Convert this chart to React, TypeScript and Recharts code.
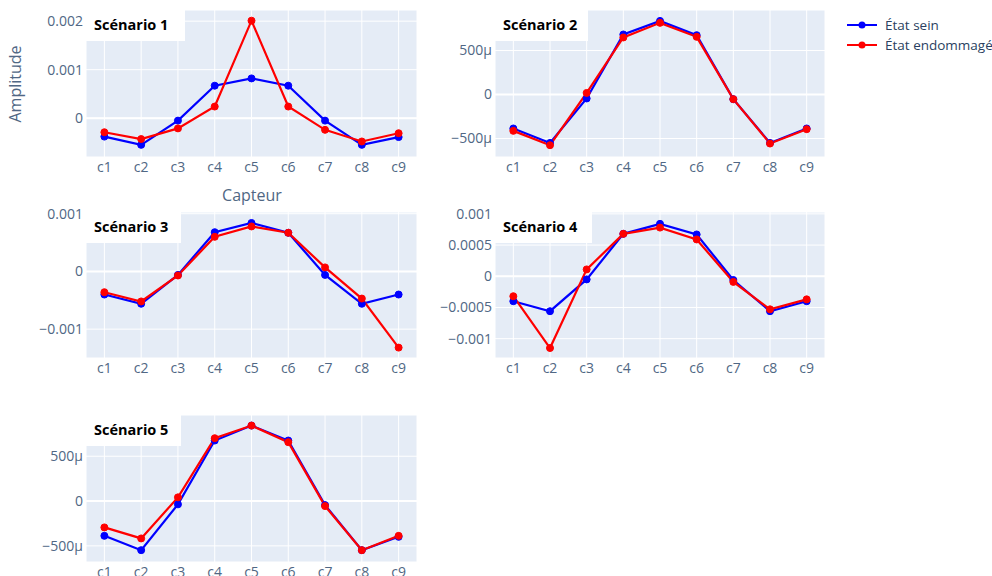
import React from "react";
import {
  LineChart,
  Line,
  XAxis,
  YAxis,
  CartesianGrid,
  ReferenceLine,
} from "recharts";

const categories = ["c1", "c2", "c3", "c4", "c5", "c6", "c7", "c8", "c9"];

// Scénario 1
const s1Sain = [-0.00038, -0.00055, -0.00005, 0.00067, 0.00082, 0.00067, -0.00005, -0.00055, -0.00039];
const s1Endo = [-0.00029, -0.00043, -0.00021, 0.00024, 0.00201, 0.00024, -0.00024, -0.00048, -0.00031];
// Scénario 2
const s2Sain = [-0.000386, -0.00055, -0.000045, 0.000682, 0.000836, 0.000674, -0.000053, -0.00055, -0.000386];
const s2Endo = [-0.000413, -0.000576, 0.000018, 0.000648, 0.000814, 0.000655, -0.000053, -0.000557, -0.000394];
// Scénario 3
const s3Sain = [-0.0004, -0.00056, -0.00006, 0.00068, 0.00084, 0.00067, -0.00006, -0.00056, -0.0004];
const s3Endo = [-0.00036, -0.00052, -0.00007, 0.0006, 0.00078, 0.00067, 0.00007, -0.00047, -0.00132];
// Scénario 4
const s4Sain = [-0.0004, -0.00056, -0.00005, 0.00068, 0.00084, 0.00067, -0.00006, -0.00056, -0.0004];
const s4Endo = [-0.00032, -0.00115, 0.00011, 0.00068, 0.00078, 0.00059, -0.00009, -0.00053, -0.00037];
// Scénario 5
const s5Sain = [-0.000388, -0.000548, -0.000037, 0.000675, 0.000842, 0.000675, -0.000045, -0.000548, -0.000399];
const s5Endo = [-0.000294, -0.000417, 0.000041, 0.000701, 0.000842, 0.000657, -0.000056, -0.000548, -0.000388];

const seriesNames = ["État sein", "État endommagé"];
const seriesColors = ["#0000ff", "#ff0000"];

const TICK_COLOR = "#506784";
const FONT = "'Open Sans', sans-serif";

const fmtDec = (v: number) => {
  if (v === 0) return "0";
  const s = String(Math.abs(v));
  return (v < 0 ? "\u2212" : "") + s;
};
const fmtMicro = (v: number) => {
  if (v === 0) return "0";
  const s = Math.round(Math.abs(v) * 1e6) + "\u00b5";
  return (v < 0 ? "\u2212" : "") + s;
};

type PanelProps = {
  title: string;
  sain: number[];
  endo: number[];
  domain: [number, number];
  ticks: number[];
  fmt: (v: number) => string;
  left: number;
  top: number;
  w: number;
  h: number;
  labelW: number;
};

const YW = 70;
const MT = 10;
const MR = 10;
const XH = 30;

const Panel = ({ title, sain, endo, domain, ticks, fmt, left, top, w, h, labelW }: PanelProps) => {
  const rows = categories.map((c, i) => ({ capteur: c, sain: sain[i], endo: endo[i] }));
  const half = w / 18;
  return (
    <>
      <div style={{ position: "absolute", left: left - YW, top: top - MT }}>
        <LineChart
          width={YW + w + MR}
          height={MT + h + XH}
          data={rows}
          margin={{ top: MT, right: MR, left: 0, bottom: 0 }}
        >
          <CartesianGrid fill="#E5ECF6" stroke="#ffffff" strokeWidth={1} />
          <XAxis
            dataKey="capteur"
            height={XH}
            padding={{ left: half, right: half }}
            axisLine={false}
            tickLine={false}
            tickSize={0}
            tickMargin={5}
            interval={0}
            tick={{ fill: TICK_COLOR, fontSize: 14, fontFamily: FONT }}
          />
          <YAxis
            type="number"
            width={YW}
            domain={domain}
            ticks={ticks}
            allowDataOverflow
            tickFormatter={fmt}
            axisLine={false}
            tickLine={false}
            tickSize={0}
            tickMargin={3}
            tick={{ fill: TICK_COLOR, fontSize: 14, fontFamily: FONT }}
          />
          <ReferenceLine y={0} stroke="#ffffff" strokeWidth={2} />
          <Line
            type="linear"
            dataKey="sain"
            name={seriesNames[0]}
            stroke={seriesColors[0]}
            strokeWidth={2.2}
            dot={{ r: 3.5, fill: seriesColors[0], stroke: seriesColors[0], strokeWidth: 1 }}
            isAnimationActive={false}
          />
          <Line
            type="linear"
            dataKey="endo"
            name={seriesNames[1]}
            stroke={seriesColors[1]}
            strokeWidth={2.2}
            dot={{ r: 3.5, fill: seriesColors[1], stroke: seriesColors[1], strokeWidth: 1 }}
            isAnimationActive={false}
          />
        </LineChart>
      </div>
      {/* white title box over the top-left of the plot */}
      <div
        style={{
          position: "absolute",
          left: left - 1,
          top: top - 2,
          width: labelW,
          height: 33,
          background: "#fff",
          fontFamily: FONT,
          fontWeight: 700,
          fontSize: 14.5,
          color: "#000",
          lineHeight: "33px",
          paddingLeft: 9,
          boxSizing: "border-box",
        }}
      >
        {title}
      </div>
    </>
  );
};

export default function App() {
  return (
    <div
      style={{
        position: "absolute",
        left: 0,
        top: 0,
        width: 992,
        height: 576,
        overflow: "hidden",
        background: "#fff",
        fontFamily: FONT,
      }}
    >
      <Panel title="Scénario 1" sain={s1Sain} endo={s1Endo} domain={[-0.0008, 0.00223]} ticks={[0, 0.001, 0.002]} fmt={fmtDec} left={86} top={10} w={331} h={147} labelW={100} />
      <Panel title="Scénario 2" sain={s2Sain} endo={s2Endo} domain={[-0.00071, 0.00096]} ticks={[-0.0005, 0, 0.0005]} fmt={fmtMicro} left={495} top={10} w={330} h={147} labelW={94} />
      <Panel title="Scénario 3" sain={s3Sain} endo={s3Endo} domain={[-0.0015, 0.00103]} ticks={[-0.001, 0, 0.001]} fmt={fmtDec} left={86} top={212} w={331} h={146} labelW={96} />
      <Panel title="Scénario 4" sain={s4Sain} endo={s4Endo} domain={[-0.00131, 0.00103]} ticks={[-0.001, -0.0005, 0, 0.0005, 0.001]} fmt={fmtDec} left={495} top={212} w={330} h={146} labelW={98} />
      <Panel title="Scénario 5" sain={s5Sain} endo={s5Endo} domain={[-0.00068, 0.00096]} ticks={[-0.0005, 0, 0.0005]} fmt={fmtMicro} left={86} top={415} w={331} h={147} labelW={96} />

      {/* axis titles of the first subplot */}
      <div
        style={{
          position: "absolute",
          left: 15,
          top: 84,
          transform: "translate(-50%, -50%) rotate(-90deg)",
          fontSize: 16,
          color: TICK_COLOR,
          whiteSpace: "nowrap",
        }}
      >
        Amplitude
      </div>
      <div
        style={{
          position: "absolute",
          left: 252,
          top: 195,
          transform: "translate(-50%, -50%)",
          fontSize: 16,
          color: TICK_COLOR,
          whiteSpace: "nowrap",
        }}
      >
        Capteur
      </div>

      {/* legend */}
      <svg style={{ position: "absolute", left: 840, top: 10 }} width={152} height={50}>
        {seriesNames.map((name, i) => (
          <g key={name} transform={`translate(0, ${15 + i * 20})`}>
            <line x1={7} x2={37} y1={0} y2={0} stroke={seriesColors[i]} strokeWidth={2} />
            <circle cx={22} cy={0} r={3.5} fill={seriesColors[i]} />
            <text x={45} y={0} dy="0.35em" fontSize={13.5} fontFamily={FONT} fill="#2a3f5f">
              {name}
            </text>
          </g>
        ))}
      </svg>
    </div>
  );
}
